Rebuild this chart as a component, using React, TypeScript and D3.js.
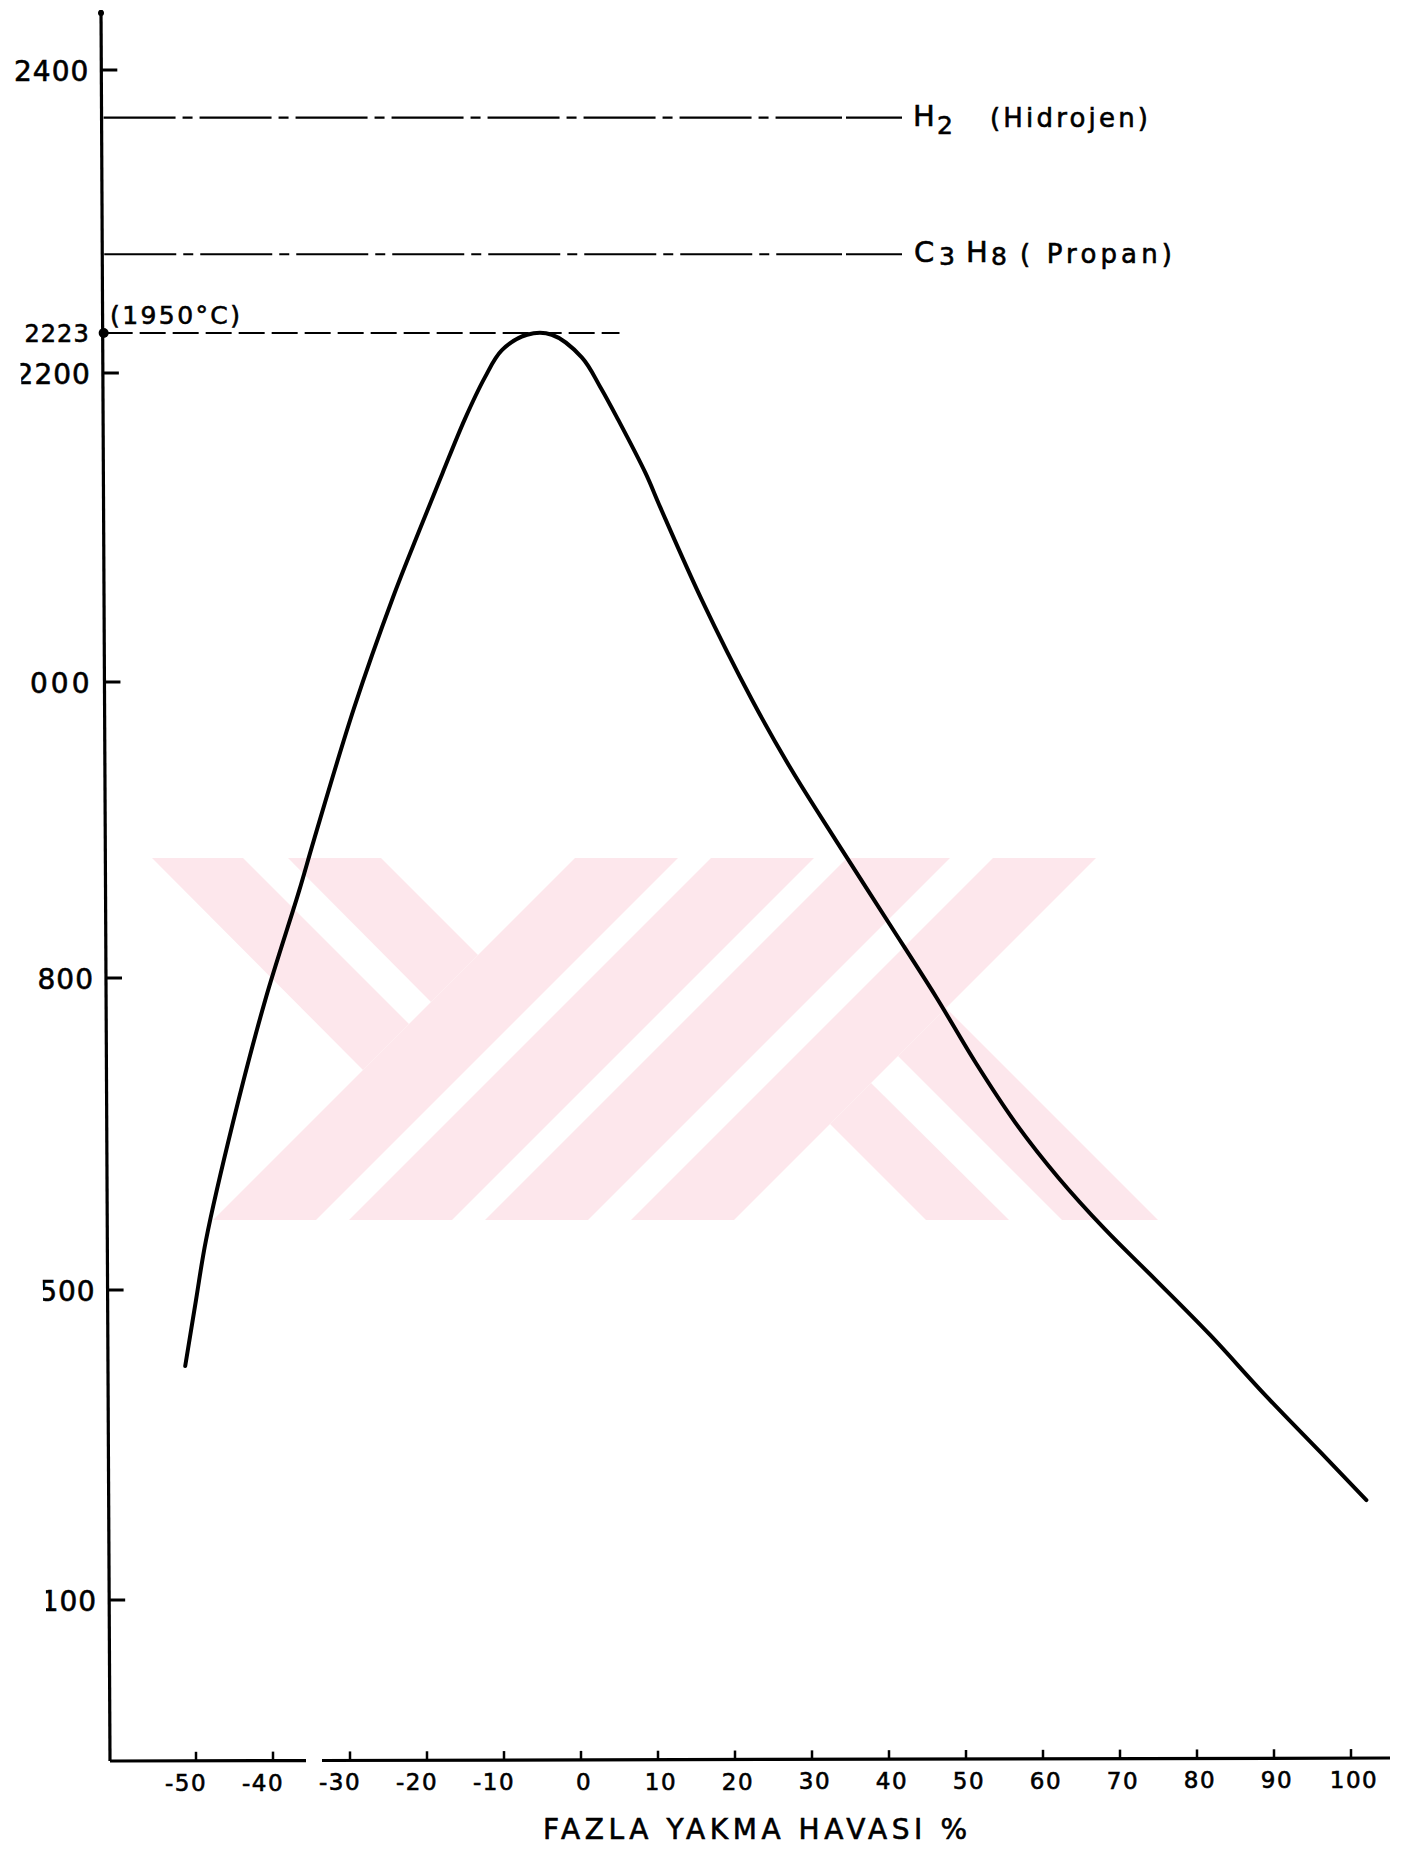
import React from "react";
import * as d3 from "d3";

const W = 1407;
const H = 1850;

// Excess combustion air (%) against adiabatic flame temperature (K)
const excessAir = [
  -51.4, -50.0, -48.7, -45.2, -41.0, -36.6, -34.7, -29.5, -24.4, -21.0, -18.0,
  -15.1, -12.5, -10.3, -7.0, -3.8, 0.1, 2.5, 4.8, 8.4, 10.3, 15.7, 22.2, 27.3,
  33.1, 40.0, 46.1, 51.3, 56.4, 62.0, 68.1, 74.6, 81.7, 88.8, 96.0, 102.0,
];
const flameTemp = [
  1402, 1487, 1548, 1661, 1779, 1859, 1893, 1982, 2055, 2098, 2135, 2170, 2197,
  2213, 2222, 2222, 2209, 2191, 2170, 2135, 2113, 2053, 1988, 1941, 1893, 1837,
  1782, 1718, 1661, 1608, 1558, 1510, 1442, 1365, 1291, 1229,
];

// Reference flame temperatures of other fuels (K)
const fuelNames = ["H2", "C3H8"];
const fuelTemps = [2368, 2276];

const peakTemp = 2223;
const peakLabel = "(1950°C)";

const xTicks = [-50, -40, -30, -20, -10, 0, 10, 20, 30, 40, 50, 60, 70, 80, 90, 100];
const yTicks = [2400, 2200, 2000, 1800, 1500, 1100];
// hand-drawn temperature scale: breakpoints where the drawn ticks sit
const yBreaks = [2400, 2223, 2200, 2000, 1800, 1500, 1100];

const xTitle = "FAZLA YAKMA HAVASI %";

const FONT = "'DejaVu Sans', sans-serif";

// pale emblem printed behind the plot: slanted bars (page pixels)
const emblemBars = [
  "152,858 243,858 409,1024 363,1070",
  "288,858 381,858 478,955 431,1002",
  "575,858 678,858 316,1220 213,1220",
  "711,858 814,858 452,1220 349,1220",
  "847,858 950,858 588,1220 485,1220",
  "993,858 1096,858 734,1220 631,1220",
  "830,1124 871,1083 1009,1220 926,1220",
  "898,1056 946,1008 1158,1220 1062,1220",
];

export default function App() {
  const x = d3.scaleLinear().domain([-50, 100]).range([196, 1351]);
  const y = d3
    .scaleLinear()
    .domain(yBreaks)
    .range([70, 333, 373, 682, 978, 1290, 1600]);

  // axes are slightly skewed as drawn by hand
  const axTop = { x: 101, y: 10 };
  const corner = { x: 110, y: 1761 };
  const xEnd = { x: 1390, y: 1758 };
  const yAxisX = (py: number) =>
    axTop.x + ((py - axTop.y) * (corner.x - axTop.x)) / (corner.y - axTop.y);
  const xAxisY = (px: number) =>
    corner.y + ((px - corner.x) * (xEnd.y - corner.y)) / (xEnd.x - corner.x);

  const pts: [number, number][] = excessAir.map((a, i) => [a, flameTemp[i]]);
  const line = d3
    .line<[number, number]>()
    .x((d) => x(d[0]))
    .y((d) => y(d[1]))
    .curve(d3.curveCatmullRom.alpha(0.5));

  const gapStart = 306;
  const gapEnd = 322;
  const fuelLineEnd = 902;

  const ink = { fill: "#000", stroke: "#000", strokeWidth: 0.6 };

  return (
    <svg
      width={W}
      height={H}
      viewBox={`0 0 ${W} ${H}`}
      style={{ position: "absolute", left: 0, top: 0, background: "#fff" }}
      fontFamily={FONT}
    >
      <defs>
        <clipPath id="ylabel-clip">
          <polygon points="0,0 4,60 21,373 31,682 35,978 43,1290 46,1600 46,1850 100,1850 100,0" />
        </clipPath>
      </defs>

      <g fill="#fde7ec">
        {emblemBars.map((p, i) => (
          <polygon key={i} points={p} />
        ))}
      </g>

      {/* y axis */}
      <line x1={axTop.x} y1={axTop.y} x2={corner.x} y2={corner.y} stroke="#000" strokeWidth={3.2} />
      <circle cx={axTop.x} cy={axTop.y + 3} r={3} fill="#000" />
      {yTicks.map((t) => {
        const py = y(t);
        const ax = yAxisX(py);
        return (
          <g key={t}>
            <line x1={ax} y1={py} x2={ax + 16} y2={py} stroke="#000" strokeWidth={3} />
            <text
              x={ax - 12}
              y={py + 11}
              textAnchor="end"
              fontSize={28}
              letterSpacing={t === 2000 ? 3 : 1}
              clipPath="url(#ylabel-clip)"
              {...ink}
            >
              {t}
            </text>
          </g>
        );
      })}

      {/* x axis, broken between -40 and -30 */}
      <line x1={corner.x} y1={corner.y} x2={gapStart} y2={xAxisY(gapStart)} stroke="#000" strokeWidth={3.2} />
      <line x1={gapEnd} y1={xAxisY(gapEnd)} x2={xEnd.x} y2={xEnd.y} stroke="#000" strokeWidth={3.2} />
      {xTicks.map((t) => {
        const px = x(t);
        const base = xAxisY(px);
        return (
          <g key={t}>
            <line x1={px} y1={base} x2={px} y2={base - 9} stroke="#000" strokeWidth={2.5} />
            <text
              x={px + (t < 0 ? -10 : 3)}
              y={base + 30}
              textAnchor="middle"
              fontSize={23}
              letterSpacing={1.5}
              {...ink}
            >
              {t}
            </text>
          </g>
        );
      })}
      <text x={543} y={1839} fontSize={28} textLength={424} lengthAdjust="spacing" {...ink}>
        {xTitle}
      </text>

      {/* reference fuels */}
      {fuelTemps.map((t, i) => {
        const py = y(t);
        const ax = yAxisX(py);
        return (
          <g key={fuelNames[i]}>
            <line
              x1={ax + 2}
              y1={py}
              x2={fuelLineEnd - 60}
              y2={py}
              stroke="#000"
              strokeWidth={2.2}
              strokeDasharray="72 7 10 7"
            />
            <line x1={fuelLineEnd - 56} y1={py} x2={fuelLineEnd} y2={py} stroke="#000" strokeWidth={2.2} />
          </g>
        );
      })}
      {/* H2 (Hidrojen) */}
      <text x={913} y={y(fuelTemps[0]) + 8} fontSize={29} {...ink}>H</text>
      <text x={937} y={y(fuelTemps[0]) + 16} fontSize={25} {...ink}>2</text>
      <text x={990} y={y(fuelTemps[0]) + 9} fontSize={26} textLength={158} lengthAdjust="spacing" {...ink}>
        (Hidrojen)
      </text>
      {/* C3H8 (Propan) */}
      <text x={914} y={y(fuelTemps[1]) + 8} fontSize={29} {...ink}>C</text>
      <text x={939} y={y(fuelTemps[1]) + 11} fontSize={25} {...ink}>3</text>
      <text x={966} y={y(fuelTemps[1]) + 8} fontSize={29} {...ink}>H</text>
      <text x={991} y={y(fuelTemps[1]) + 11} fontSize={25} {...ink}>8</text>
      <text x={1020} y={y(fuelTemps[1]) + 9} fontSize={26} textLength={152} lengthAdjust="spacing" {...ink}>
        ( Propan)
      </text>

      {/* stoichiometric peak marker */}
      <line
        x1={yAxisX(y(peakTemp)) + 4}
        y1={y(peakTemp)}
        x2={x(5)}
        y2={y(peakTemp)}
        stroke="#000"
        strokeWidth={2.2}
        strokeDasharray="26 7"
      />
      <circle cx={yAxisX(y(peakTemp)) + 1} cy={y(peakTemp)} r={5} fill="#000" />
      <text
        x={yAxisX(y(peakTemp)) - 13}
        y={y(peakTemp) + 9}
        textAnchor="end"
        fontSize={24}
        letterSpacing={1}
        {...ink}
      >
        {peakTemp}
      </text>
      <text x={110} y={y(peakTemp) - 9} fontSize={25} textLength={130} lengthAdjust="spacing" {...ink}>
        {peakLabel}
      </text>

      {/* flame temperature curve */}
      <path
        d={line(pts) ?? ""}
        fill="none"
        stroke="#000"
        strokeWidth={4}
        strokeLinejoin="round"
        strokeLinecap="round"
      />
    </svg>
  );
}
